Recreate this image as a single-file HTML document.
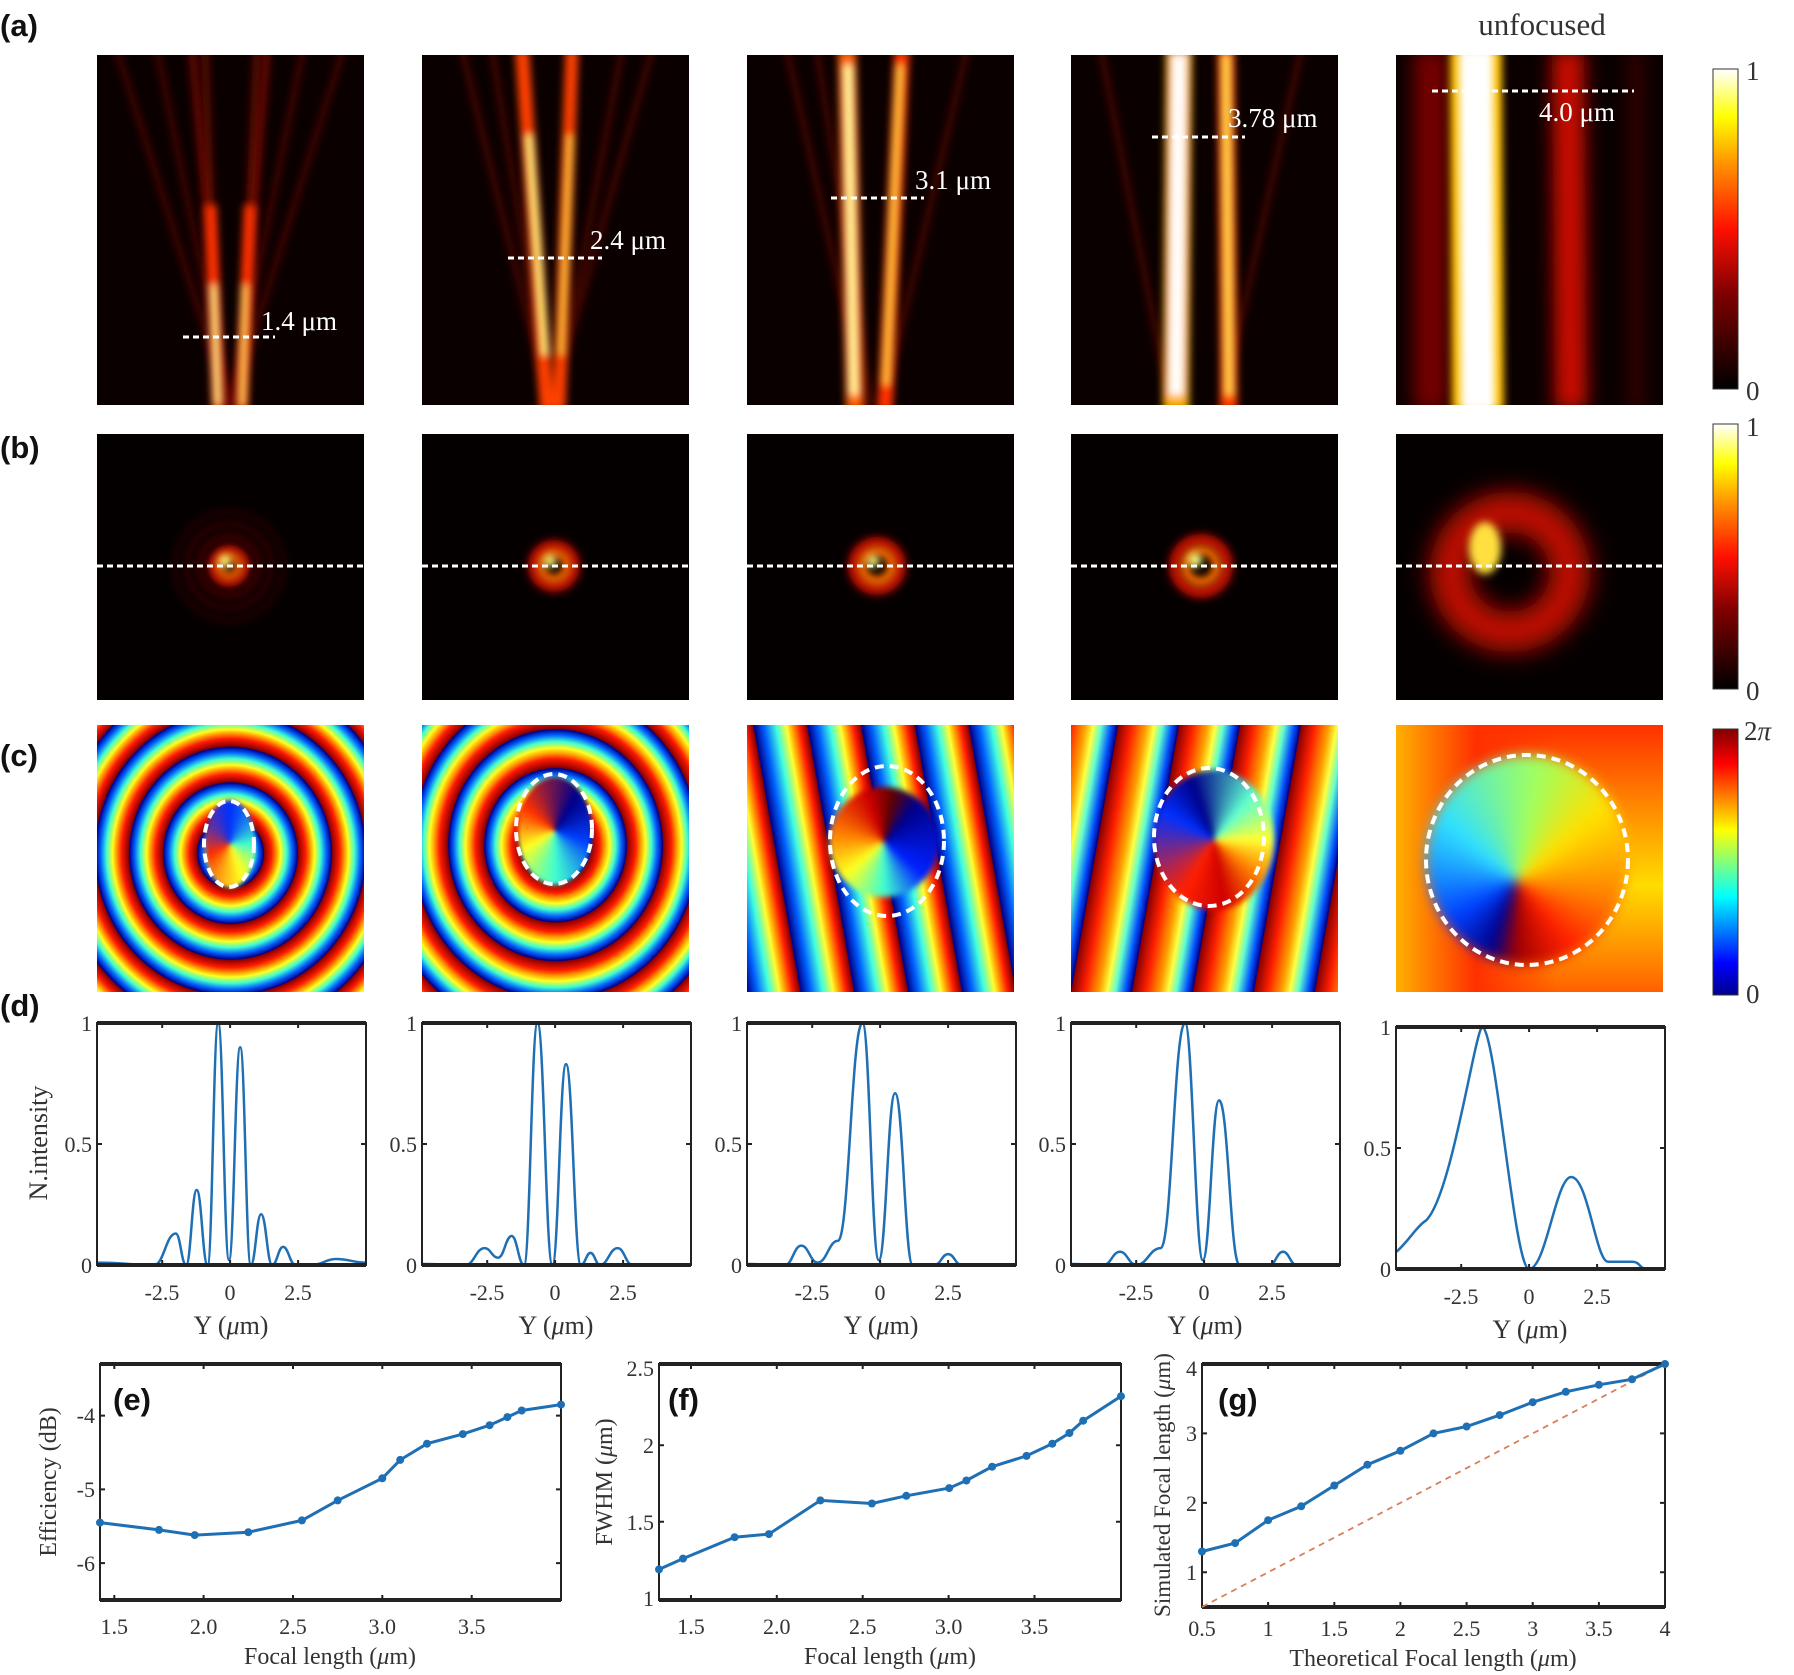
<!DOCTYPE html>
<html><head><meta charset="utf-8">
<style>
html,body{margin:0;padding:0;background:#fff;}
#root{position:relative;width:1794px;height:1675px;overflow:hidden;background:#fff;}
.ph{position:absolute;overflow:hidden;}
svg{position:absolute;left:0;top:0;}
text{font-family:"Liberation Serif",serif;fill:#333;}
.lab{font-family:"Liberation Sans",sans-serif;font-weight:bold;font-size:31px;fill:#111;}
</style></head><body><div id="root">
<div class="ph" style="left:97px;top:725px;width:267px;height:267px;background:repeating-radial-gradient(ellipse 100% 105% at 50% 48%,#8a0000 0px,#ff1a00 7px,#ff9a00 12px,#ffff20 16px,#40ffd0 22px,#0060ff 28px,#00008a 33px,#8a0000 34px);"></div>
<div class="ph" style="left:422px;top:725px;width:267px;height:267px;background:repeating-radial-gradient(ellipse 100% 108% at 50% 45%,#8a0000 0px,#ff1a00 8px,#ff9a00 13px,#ffff20 18px,#40ffd0 24px,#0060ff 30px,#00008a 35px,#8a0000 36px);"></div>
<div class="ph" style="left:747px;top:725px;width:267px;height:267px;background:repeating-linear-gradient(80deg,#00008a 0px,#0060ff 10px,#40ffe0 22px,#ffff30 32px,#ff9a00 38px,#ff1a00 45px,#8a0000 52px,#00008a 53px);"></div>
<div class="ph" style="left:1071px;top:725px;width:267px;height:267px;background:repeating-linear-gradient(100deg,#ff2000 0px,#ffa000 14px,#ffff40 22px,#60ffd0 30px,#0050ff 40px,#00008a 46px,#8a0000 47px,#ff2000 60px);"></div>
<div class="ph" style="left:1396px;top:725px;width:267px;height:267px;background:linear-gradient(90deg,#ffb000,#ff3000 30%,rgba(255,80,0,0) 60%),linear-gradient(180deg,#ff3000,#ffdd00 60%,#ff6000);"></div>
<div class="ph" style="left:1426px;top:755px;width:202px;height:210px;border-radius:50%;background:conic-gradient(from 200deg at 45% 60%,#00008a,#0040ff 40deg,#30e0ff 110deg,#a0ff60 170deg,#ffe000 210deg,#ff8000 260deg,#ff2000 300deg,#a00000 340deg,#00008a 360deg);filter:blur(6px);"></div>
<div class="ph" style="left:829px;top:787px;width:110px;height:110px;border-radius:50%;background:conic-gradient(from 340deg,#d00000,#600000 30deg,#00008a 60deg,#0020ff 150deg,#40ffd0 200deg,#ffff20 250deg,#ff8000 300deg,#d00000 360deg);filter:blur(3px);"></div>
<div class="ph" style="left:1154px;top:770px;width:120px;height:140px;border-radius:50%;background:conic-gradient(from 300deg,#0030ff,#00008a 40deg,#60ffd0 100deg,#ffff30 150deg,#ff8000 190deg,#d00000 230deg,#ff2000 270deg,#0030ff 360deg);filter:blur(3px);"></div>
<div class="ph" style="left:205px;top:800px;width:50px;height:88px;border-radius:50%;background:conic-gradient(#0030ff,#40ffd0 90deg,#ffff20 160deg,#ff3000 240deg,#0030ff 360deg);filter:blur(2px);"></div>
<div class="ph" style="left:518px;top:777px;width:74px;height:108px;border-radius:50%;background:conic-gradient(from 30deg,#00008a,#0040ff 80deg,#40ffd0 150deg,#ffff20 210deg,#ff3000 280deg,#00008a 360deg);filter:blur(2px);"></div>

<svg width="1794" height="1675" viewBox="0 0 1794 1675" xmlns="http://www.w3.org/2000/svg">
<defs>
<filter id="b3" filterUnits="userSpaceOnUse" x="-100" y="-100" width="500" height="600"><feGaussianBlur stdDeviation="4"/></filter>
<filter id="b6" filterUnits="userSpaceOnUse" x="-100" y="-100" width="500" height="600"><feGaussianBlur stdDeviation="9"/></filter>
<filter id="r4" filterUnits="userSpaceOnUse" x="-100" y="-100" width="500" height="500"><feGaussianBlur stdDeviation="4"/></filter>
<filter id="r10" filterUnits="userSpaceOnUse" x="-100" y="-100" width="500" height="500"><feGaussianBlur stdDeviation="12"/></filter>
<linearGradient id="hot" x1="0" y1="1" x2="0" y2="0"><stop offset="0" stop-color="#000"/><stop offset="0.3" stop-color="#800000"/><stop offset="0.5" stop-color="#ff1000"/><stop offset="0.7" stop-color="#ff9000"/><stop offset="0.85" stop-color="#ffff00"/><stop offset="1" stop-color="#fff"/></linearGradient>
<linearGradient id="jet" x1="0" y1="1" x2="0" y2="0"><stop offset="0" stop-color="#00008f"/><stop offset="0.12" stop-color="#0000ff"/><stop offset="0.37" stop-color="#00ffff"/><stop offset="0.62" stop-color="#ffff00"/><stop offset="0.87" stop-color="#ff0000"/><stop offset="1" stop-color="#800000"/></linearGradient>
<clipPath id="ca"><rect x="0" y="0" width="267" height="350"/></clipPath>
<clipPath id="cbb"><rect x="0" y="0" width="267" height="266"/></clipPath>
</defs>

<!-- ROW A -->
<g transform="translate(97,55)" clip-path="url(#ca)">
<rect width="267" height="350" fill="#0a0000"/>
<g stroke="#a00800" stroke-width="6" opacity="0.4" filter="url(#b3)">
<line x1="133" y1="355" x2="20" y2="-5"/><line x1="133" y1="355" x2="60" y2="-5"/><line x1="133" y1="355" x2="246" y2="-5"/><line x1="133" y1="355" x2="206" y2="-5"/></g>
<g stroke="#c01000" stroke-width="8" opacity="0.5" filter="url(#b3)"><line x1="128" y1="355" x2="95" y2="-5"/><line x1="140" y1="355" x2="170" y2="-5"/></g>
<g filter="url(#b3)">
<line x1="121" y1="355" x2="113.6" y2="150" stroke="#ff3000" stroke-width="12"/>
<line x1="113.6" y1="150" x2="108" y2="-5" stroke="#a01000" stroke-width="8" opacity="0.5"/>
<line x1="145" y1="355" x2="153" y2="150" stroke="#ff3000" stroke-width="12"/>
<line x1="153" y1="150" x2="160" y2="-5" stroke="#a01000" stroke-width="8" opacity="0.5"/>
<line x1="121" y1="350" x2="116.5" y2="230" stroke="#ffff90" stroke-width="5"/>
<line x1="145" y1="350" x2="148" y2="230" stroke="#ffe060" stroke-width="5"/>
</g></g>

<g transform="translate(422,55)" clip-path="url(#ca)">
<rect width="267" height="350" fill="#0a0000"/>
<g stroke="#900800" stroke-width="7" opacity="0.4" filter="url(#b3)">
<line x1="128" y1="355" x2="40" y2="-5"/><line x1="128" y1="355" x2="230" y2="-5"/><line x1="128" y1="355" x2="70" y2="-5"/><line x1="132" y1="355" x2="200" y2="-5"/></g>
<g filter="url(#b3)">
<line x1="125" y1="355" x2="100" y2="-5" stroke="#ff4000" stroke-width="14"/>
<line x1="137" y1="355" x2="150" y2="-5" stroke="#ff4000" stroke-width="13"/>
<line x1="123" y1="300" x2="107" y2="80" stroke="#ffff80" stroke-width="6"/>
<line x1="139" y1="300" x2="148" y2="80" stroke="#ffd040" stroke-width="5"/>
</g></g>

<g transform="translate(747,55)" clip-path="url(#ca)">
<rect width="267" height="350" fill="#0a0000"/>
<g stroke="#900800" stroke-width="7" opacity="0.4" filter="url(#b3)">
<line x1="120" y1="355" x2="40" y2="-5"/><line x1="135" y1="355" x2="220" y2="-5"/><line x1="125" y1="355" x2="70" y2="-5"/></g>
<g filter="url(#b3)">
<line x1="108" y1="355" x2="100" y2="-5" stroke="#ff6000" stroke-width="18"/>
<line x1="138" y1="355" x2="155" y2="-5" stroke="#ff3000" stroke-width="15"/>
<line x1="107" y1="340" x2="101" y2="10" stroke="#ffffa0" stroke-width="8"/>
<line x1="139" y1="330" x2="153" y2="10" stroke="#ffd040" stroke-width="6"/>
</g></g>

<g transform="translate(1071,55)" clip-path="url(#ca)">
<rect width="267" height="350" fill="#0a0000"/>
<g stroke="#900800" stroke-width="7" opacity="0.4" filter="url(#b3)">
<line x1="100" y1="355" x2="30" y2="-5"/><line x1="150" y1="355" x2="230" y2="-5"/></g>
<g filter="url(#b3)">
<line x1="105" y1="355" x2="108" y2="-5" stroke="#ffb000" stroke-width="26"/>
<line x1="158" y1="355" x2="155" y2="-5" stroke="#ff4000" stroke-width="17"/>
<line x1="105" y1="340" x2="108" y2="0" stroke="#ffffff" stroke-width="14"/>
<line x1="158" y1="340" x2="155" y2="0" stroke="#ffe050" stroke-width="7"/>
</g></g>

<g transform="translate(1396,55)" clip-path="url(#ca)">
<rect width="267" height="350" fill="#0a0000"/>
<line x1="35" y1="355" x2="35" y2="-5" stroke="#900000" stroke-width="35" opacity="0.8" filter="url(#b6)"/>
<line x1="175" y1="355" x2="172" y2="-5" stroke="#e01000" stroke-width="32" opacity="0.9" filter="url(#b6)"/>
<line x1="240" y1="355" x2="240" y2="-5" stroke="#600000" stroke-width="14" opacity="0.6" filter="url(#b6)"/>
<line x1="82" y1="355" x2="80" y2="-5" stroke="#ffc000" stroke-width="52" filter="url(#b3)"/>
<line x1="82" y1="355" x2="80" y2="-5" stroke="#ffffff" stroke-width="34" filter="url(#b3)"/>
</g>

<!-- ROW B -->
<g transform="translate(97,434)" clip-path="url(#cbb)">
<rect width="267" height="266" fill="#050000"/>
<circle cx="132" cy="132" r="54" fill="none" stroke="#900000" stroke-width="4" opacity="0.3" filter="url(#r4)"/>
<circle cx="132" cy="132" r="42" fill="none" stroke="#900000" stroke-width="4" opacity="0.5" filter="url(#r4)"/>
<circle cx="132" cy="132" r="30" fill="none" stroke="#900000" stroke-width="4" opacity="0.7" filter="url(#r4)"/>
<circle cx="132" cy="132" r="16" fill="none" stroke="#c01000" stroke-width="10" filter="url(#r4)"/>
<circle cx="132" cy="132" r="10" fill="none" stroke="#ff7000" stroke-width="7" filter="url(#r4)"/>
<circle cx="128" cy="127" r="6" fill="#ffff80" filter="url(#r4)"/>
</g>
<g transform="translate(422,434)" clip-path="url(#cbb)">
<rect width="267" height="266" fill="#050000"/>
<circle cx="132" cy="132" r="20" fill="none" stroke="#c01000" stroke-width="12" filter="url(#r4)"/>
<circle cx="132" cy="132" r="13" fill="none" stroke="#ff7000" stroke-width="8" filter="url(#r4)"/>
<circle cx="128" cy="127" r="6" fill="#ffff80" filter="url(#r4)"/>
</g>
<g transform="translate(747,434)" clip-path="url(#cbb)">
<rect width="267" height="266" fill="#050000"/>
<circle cx="130" cy="132" r="23" fill="none" stroke="#c01000" stroke-width="12" filter="url(#r4)"/>
<circle cx="130" cy="132" r="15" fill="none" stroke="#ff7000" stroke-width="9" filter="url(#r4)"/>
<circle cx="126" cy="127" r="6" fill="#ffff80" filter="url(#r4)"/>
</g>
<g transform="translate(1071,434)" clip-path="url(#cbb)">
<rect width="267" height="266" fill="#050000"/>
<circle cx="130" cy="132" r="26" fill="none" stroke="#c01000" stroke-width="12" filter="url(#r4)"/>
<circle cx="130" cy="132" r="16" fill="none" stroke="#ff7000" stroke-width="9" filter="url(#r4)"/>
<circle cx="124" cy="126" r="7" fill="#ffff80" filter="url(#r4)"/>
</g>
<g transform="translate(1396,434)" clip-path="url(#cbb)">
<rect width="267" height="266" fill="#050000"/>
<circle cx="114" cy="138" r="60" fill="none" stroke="#c01000" stroke-width="40" filter="url(#r10)"/>
<ellipse cx="89" cy="114" rx="16" ry="26" fill="#ffe040" filter="url(#r4)"/>
</g>

<!-- colorbars -->
<rect x="1713" y="69" width="25" height="320" fill="url(#hot)" stroke="#333" stroke-width="1"/>
<rect x="1713" y="424" width="25" height="265" fill="url(#hot)" stroke="#333" stroke-width="1"/>
<rect x="1713" y="729" width="25" height="266" fill="url(#jet)" stroke="#333" stroke-width="1"/>
<g font-size="27">
<text x="1746" y="80">1</text><text x="1746" y="400">0</text>
<text x="1746" y="436">1</text><text x="1746" y="700">0</text>
<text x="1744" y="740">2<tspan font-style="italic">π</tspan></text><text x="1746" y="1003">0</text>
</g>
<text class="lab" x="0" y="36">(a)</text>
<text class="lab" x="0" y="458">(b)</text>
<text class="lab" x="0" y="766">(c)</text>
<text class="lab" x="0" y="1016">(d)</text>
<text x="1542" y="35" font-size="31" text-anchor="middle">unfocused</text>

<!-- annotations -->
<g stroke="#fff" stroke-width="3" stroke-dasharray="6 4">
<line x1="183" y1="337" x2="275" y2="337"/><line x1="508" y1="258" x2="602" y2="258"/><line x1="831" y1="198" x2="924" y2="198"/><line x1="1152" y1="137" x2="1245" y2="137"/><line x1="1432" y1="91" x2="1634" y2="91"/>
<line x1="97" y1="566" x2="364" y2="566"/><line x1="422" y1="566" x2="689" y2="566"/><line x1="747" y1="566" x2="1014" y2="566"/><line x1="1071" y1="566" x2="1338" y2="566"/><line x1="1396" y1="566" x2="1663" y2="566"/>
</g>
<g font-size="27">
<text x="261" y="330" style="fill:#fff">1.4 μm</text><text x="590" y="249" style="fill:#fff">2.4 μm</text><text x="915" y="189" style="fill:#fff">3.1 μm</text><text x="1228" y="127" style="fill:#fff">3.78 μm</text><text x="1539" y="121" style="fill:#fff">4.0 μm</text>
</g>
<g fill="none" stroke="#fff" stroke-width="4" stroke-dasharray="9 6">
<ellipse cx="229" cy="844" rx="25" ry="43"/><ellipse cx="554" cy="829" rx="38" ry="55"/><ellipse cx="887" cy="841" rx="57" ry="75"/><ellipse cx="1209" cy="837" rx="55" ry="69"/><ellipse cx="1527" cy="860" rx="101" ry="105"/>
</g>

<!-- ROW D -->
<g transform="translate(97,1023)">
<path d="M0,239.6 C25.7,239.6 31.4,242 57.1,242 C66.9,242 69,210.5 78.8,210.5 C83.4,210.5 84.5,242 89.1,242 C93.9,242 94.9,167 99.7,167 C104.6,167 105.7,242 110.6,242 C115.4,242 116.4,0 121.2,0 C126.1,0 127.1,237 132,237 C137,237 138.2,24.2 143.2,24.2 C148,24.2 149,242 153.8,242 C158.4,242 159.5,191.2 164.1,191.2 C169.1,191.2 170.2,242 175.2,242 C180.1,242 181.2,223.9 186.1,223.9 C191.6,223.9 192.9,242 198.4,242 L214.6,242 C225.6,242 228.1,236 239.1,236 C252.6,236 255.5,239.6 269,239.6" fill="none" stroke="#1f6fb4" stroke-width="2.5"/>
</g>
<g transform="translate(422,1023)">
<path d="M0,241 C19.6,241 23.9,242 43.5,242 C52,242 54,225.1 62.5,225.1 C68.6,225.1 70,234.7 76.1,234.7 C82.2,234.7 83.6,213 89.7,213 C95.2,213 96.5,242 102,242 C108.1,242 109.4,0 115.5,0 C122.2,0 123.7,242 130.4,242 C136.5,242 137.9,41.1 144,41.1 C150.7,41.1 152.2,242 158.9,242 C163.2,242 164.2,229.9 168.5,229.9 C172.8,229.9 173.7,242 178,242 C185.9,242 187.7,225.1 195.6,225.1 C202.4,225.1 203.8,242 210.6,242 L269,242" fill="none" stroke="#1f6fb4" stroke-width="2.5"/>
</g>
<g transform="translate(747,1023)">
<path d="M0,241 C17,241 21,242 38,242 C45.3,242 47,222.6 54.3,222.6 C61.6,222.6 63.3,239.6 70.6,239.6 C79.8,239.6 81.8,217.8 91,217.8 C102,217.8 104.5,0 115.5,0 C122.8,0 124.5,237.2 131.8,237.2 C139.1,237.2 140.8,70.2 148.1,70.2 C156,70.2 157.8,242 165.7,242 L187.5,242 C193.6,242 195,231.1 201.1,231.1 C207.2,231.1 208.5,242 214.6,242 L269,242" fill="none" stroke="#1f6fb4" stroke-width="2.5"/>
</g>
<g transform="translate(1071,1023)">
<path d="M0,241 C14.7,241 17.9,242 32.6,242 C39.9,242 41.6,228.7 48.9,228.7 C56.2,228.7 57.9,242 65.2,242 C76.2,242 78.7,225.1 89.7,225.1 C100.7,225.1 103.1,0 114.1,0 C121.4,0 124.5,237.2 131.8,237.2 C139.1,237.2 140.8,77.4 148.1,77.4 C157.3,77.4 159.3,242 168.5,242 L198.4,242 C204.5,242 205.9,228.7 212,228.7 C218.1,228.7 219.5,242 225.6,242 L269,242" fill="none" stroke="#1f6fb4" stroke-width="2.5"/>
</g>
<g transform="translate(1396,1027)">
<path d="M0,225.1 C12,215 20,200 29.9,193.6 C55,170 78,10 85.9,0 C100,0 118,242 133.1,242 C150,242 160,150 175.2,150 C192,150 200,234.7 212,234.7 L236.4,234.7 C244,234.7 244,242 250,242 L269,242" fill="none" stroke="#1f6fb4" stroke-width="2.5"/>
</g>

<g fill="none" stroke="#222">
<rect x="97" y="1023" width="269" height="242" stroke-width="2"/><rect x="422" y="1023" width="269" height="242" stroke-width="2"/><rect x="747" y="1023" width="269" height="242" stroke-width="2"/><rect x="1071" y="1023" width="269" height="242" stroke-width="2"/><rect x="1396" y="1027" width="269" height="242" stroke-width="2"/>
<g stroke-width="4">
<line x1="97" y1="1023" x2="366" y2="1023"/><line x1="97" y1="1265" x2="366" y2="1265"/>
<line x1="422" y1="1023" x2="691" y2="1023"/><line x1="422" y1="1265" x2="691" y2="1265"/>
<line x1="747" y1="1023" x2="1016" y2="1023"/><line x1="747" y1="1265" x2="1016" y2="1265"/>
<line x1="1071" y1="1023" x2="1340" y2="1023"/><line x1="1071" y1="1265" x2="1340" y2="1265"/>
<line x1="1396" y1="1027" x2="1665" y2="1027"/><line x1="1396" y1="1269" x2="1665" y2="1269"/>
</g>
</g>
<g stroke="#222" stroke-width="2">
<path d="M162.2,1265v-5M230.1,1265v-5M298.1,1265v-5M162.2,1023v5M230.1,1023v5M298.1,1023v5 M487.2,1265v-5M555.1,1265v-5M623.1,1265v-5M487.2,1023v5M555.1,1023v5M623.1,1023v5 M812.2,1265v-5M880.1,1265v-5M948.1,1265v-5M812.2,1023v5M880.1,1023v5M948.1,1023v5 M1136.2,1265v-5M1204.1,1265v-5M1272.1,1265v-5M1136.2,1023v5M1204.1,1023v5M1272.1,1023v5 M1461.2,1269v-5M1529.1,1269v-5M1597.1,1269v-5M1461.2,1027v5M1529.1,1027v5M1597.1,1027v5"/>
<path d="M97,1144h5M366,1144h-5M422,1144h5M691,1144h-5M747,1144h5M1016,1144h-5M1071,1144h5M1340,1144h-5M1396,1148h5M1665,1148h-5"/>
</g>
<g text-anchor="middle" font-size="22">
<text x="162" y="1300">-2.5</text><text x="230" y="1300">0</text><text x="298" y="1300">2.5</text>
<text x="487" y="1300">-2.5</text><text x="555" y="1300">0</text><text x="623" y="1300">2.5</text>
<text x="812" y="1300">-2.5</text><text x="880" y="1300">0</text><text x="948" y="1300">2.5</text>
<text x="1136" y="1300">-2.5</text><text x="1204" y="1300">0</text><text x="1272" y="1300">2.5</text>
<text x="1461" y="1304">-2.5</text><text x="1529" y="1304">0</text><text x="1597" y="1304">2.5</text>
</g>
<g font-size="22" text-anchor="end">
<text x="92" y="1273">0</text><text x="92" y="1152">0.5</text><text x="92" y="1031">1</text>
<text x="417" y="1273">0</text><text x="417" y="1152">0.5</text><text x="417" y="1031">1</text>
<text x="742" y="1273">0</text><text x="742" y="1152">0.5</text><text x="742" y="1031">1</text>
<text x="1066" y="1273">0</text><text x="1066" y="1152">0.5</text><text x="1066" y="1031">1</text>
<text x="1391" y="1277">0</text><text x="1391" y="1156">0.5</text><text x="1391" y="1035">1</text>
</g>
<g font-size="26" text-anchor="middle">
<text x="231" y="1334">Y (<tspan font-style="italic">μ</tspan>m)</text>
<text x="556" y="1334">Y (<tspan font-style="italic">μ</tspan>m)</text>
<text x="881" y="1334">Y (<tspan font-style="italic">μ</tspan>m)</text>
<text x="1205" y="1334">Y (<tspan font-style="italic">μ</tspan>m)</text>
<text x="1530" y="1338">Y (<tspan font-style="italic">μ</tspan>m)</text>
</g>
<text x="47" y="1143" font-size="26" text-anchor="middle" transform="rotate(-90 47 1143)">N.intensity</text>

<!-- E -->
<rect x="100" y="1364" width="461" height="236" fill="none" stroke="#222" stroke-width="2"/>
<line x1="100" y1="1364" x2="561" y2="1364" stroke="#222" stroke-width="4"/><line x1="100" y1="1600" x2="561" y2="1600" stroke="#222" stroke-width="4"/>
<path d="M114.3,1600v-5M203.6,1600v-5M293,1600v-5M382.3,1600v-5M471.7,1600v-5M114.3,1364v5M203.6,1364v5M293,1364v5M382.3,1364v5M471.7,1364v5M100,1415.6h5M100,1489.4h5M100,1563.1h5M561,1415.6h-5M561,1489.4h-5M561,1563.1h-5" stroke="#222" stroke-width="2"/>
<polyline points="100,1522.6 159,1529.9 194.7,1535.1 248.3,1532.2 301.9,1520.4 337.7,1500.4 382.3,1478.3 400.2,1459.9 427,1443.7 462.8,1434.1 489.6,1425.2 507.4,1417.1 521.7,1410.5 561,1404.6" fill="none" stroke="#1f6fb4" stroke-width="3"/>
<g fill="#1f6fb4"><circle cx="100" cy="1522.6" r="4"/><circle cx="159" cy="1529.9" r="4"/><circle cx="194.7" cy="1535.1" r="4"/><circle cx="248.3" cy="1532.2" r="4"/><circle cx="301.9" cy="1520.4" r="4"/><circle cx="337.7" cy="1500.4" r="4"/><circle cx="382.3" cy="1478.3" r="4"/><circle cx="400.2" cy="1459.9" r="4"/><circle cx="427" cy="1443.7" r="4"/><circle cx="462.8" cy="1434.1" r="4"/><circle cx="489.6" cy="1425.2" r="4"/><circle cx="507.4" cy="1417.1" r="4"/><circle cx="521.7" cy="1410.5" r="4"/><circle cx="561" cy="1404.6" r="4"/></g>
<g font-size="22" text-anchor="middle"><text x="114.3" y="1634">1.5</text><text x="203.6" y="1634">2.0</text><text x="293" y="1634">2.5</text><text x="382.3" y="1634">3.0</text><text x="471.7" y="1634">3.5</text></g>
<g font-size="22" text-anchor="end"><text x="95" y="1423">-4</text><text x="95" y="1497">-5</text><text x="95" y="1571">-6</text></g>
<text x="330" y="1664" font-size="24" text-anchor="middle">Focal length (<tspan font-style="italic">μ</tspan>m)</text>
<text x="56" y="1482" font-size="24" text-anchor="middle" transform="rotate(-90 56 1482)">Efficiency (dB)</text>
<text class="lab" x="113" y="1410" font-size="34">(e)</text>

<!-- F -->
<rect x="659" y="1364" width="462" height="236" fill="none" stroke="#222" stroke-width="2"/>
<line x1="659" y1="1364" x2="1121" y2="1364" stroke="#222" stroke-width="4"/><line x1="659" y1="1600" x2="1121" y2="1600" stroke="#222" stroke-width="4"/>
<path d="M691,1600v-5M776.8,1600v-5M862.7,1600v-5M948.6,1600v-5M1034.5,1600v-5M691,1364v5M776.8,1364v5M862.7,1364v5M948.6,1364v5M1034.5,1364v5M659,1521.8h5M659,1445.2h5M1121,1521.8h-5M1121,1445.2h-5" stroke="#222" stroke-width="2"/>
<polyline points="659,1569.4 683,1558.6 734.6,1537.2 768.9,1534.1 820.4,1500.4 871.9,1503.5 906.3,1495.8 949.2,1488.1 966.4,1480.5 992.1,1466.7 1026.5,1455.9 1052.3,1443.7 1069.4,1433 1083.2,1420.7 1121,1396.2" fill="none" stroke="#1f6fb4" stroke-width="3"/>
<g fill="#1f6fb4"><circle cx="659" cy="1569.4" r="4"/><circle cx="683" cy="1558.6" r="4"/><circle cx="734.6" cy="1537.2" r="4"/><circle cx="768.9" cy="1534.1" r="4"/><circle cx="820.4" cy="1500.4" r="4"/><circle cx="871.9" cy="1503.5" r="4"/><circle cx="906.3" cy="1495.8" r="4"/><circle cx="949.2" cy="1488.1" r="4"/><circle cx="966.4" cy="1480.5" r="4"/><circle cx="992.1" cy="1466.7" r="4"/><circle cx="1026.5" cy="1455.9" r="4"/><circle cx="1052.3" cy="1443.7" r="4"/><circle cx="1069.4" cy="1433" r="4"/><circle cx="1083.2" cy="1420.7" r="4"/><circle cx="1121" cy="1396.2" r="4"/></g>
<g font-size="22" text-anchor="middle"><text x="691" y="1634">1.5</text><text x="776.8" y="1634">2.0</text><text x="862.7" y="1634">2.5</text><text x="948.6" y="1634">3.0</text><text x="1034.5" y="1634">3.5</text></g>
<g font-size="22" text-anchor="end"><text x="654" y="1606">1</text><text x="654" y="1530">1.5</text><text x="654" y="1453">2</text><text x="654" y="1376">2.5</text></g>
<text x="890" y="1664" font-size="24" text-anchor="middle">Focal length (<tspan font-style="italic">μ</tspan>m)</text>
<text x="612" y="1482" font-size="24" text-anchor="middle" transform="rotate(-90 612 1482)">FWHM (<tspan font-style="italic">μ</tspan>m)</text>
<text class="lab" x="668" y="1410" font-size="34">(f)</text>

<!-- G -->
<rect x="1202" y="1364" width="463" height="243" fill="none" stroke="#222" stroke-width="2"/>
<line x1="1202" y1="1364" x2="1665" y2="1364" stroke="#222" stroke-width="4"/><line x1="1202" y1="1607" x2="1665" y2="1607" stroke="#222" stroke-width="4"/>
<path d="M1268.1,1607v-5M1334.3,1607v-5M1400.4,1607v-5M1466.6,1607v-5M1532.7,1607v-5M1598.9,1607v-5M1268.1,1364v5M1334.3,1364v5M1400.4,1364v5M1466.6,1364v5M1532.7,1364v5M1598.9,1364v5M1202,1572.3h5M1202,1502.9h5M1202,1433.4h5M1665,1572.3h-5M1665,1502.9h-5M1665,1433.4h-5" stroke="#222" stroke-width="2"/>
<line x1="1202" y1="1607" x2="1665" y2="1364" stroke="#d9805a" stroke-width="1.8" stroke-dasharray="6 5"/>
<polyline points="1202,1551.5 1235.1,1543.1 1268.1,1520.2 1301.2,1506.3 1334.3,1485.5 1367.4,1464.7 1400.4,1450.8 1433.5,1433.4 1466.6,1426.5 1499.7,1415.1 1532.7,1402.2 1565.8,1391.8 1598.9,1384.8 1632,1379.3 1665,1364" fill="none" stroke="#1f6fb4" stroke-width="3"/>
<g fill="#1f6fb4"><circle cx="1202" cy="1551.5" r="4"/><circle cx="1235.1" cy="1543.1" r="4"/><circle cx="1268.1" cy="1520.2" r="4"/><circle cx="1301.2" cy="1506.3" r="4"/><circle cx="1334.3" cy="1485.5" r="4"/><circle cx="1367.4" cy="1464.7" r="4"/><circle cx="1400.4" cy="1450.8" r="4"/><circle cx="1433.5" cy="1433.4" r="4"/><circle cx="1466.6" cy="1426.5" r="4"/><circle cx="1499.7" cy="1415.1" r="4"/><circle cx="1532.7" cy="1402.2" r="4"/><circle cx="1565.8" cy="1391.8" r="4"/><circle cx="1598.9" cy="1384.8" r="4"/><circle cx="1632" cy="1379.3" r="4"/><circle cx="1665" cy="1364" r="4"/></g>
<g font-size="22" text-anchor="middle"><text x="1202" y="1636">0.5</text><text x="1268.1" y="1636">1</text><text x="1334.3" y="1636">1.5</text><text x="1400.4" y="1636">2</text><text x="1466.6" y="1636">2.5</text><text x="1532.7" y="1636">3</text><text x="1598.9" y="1636">3.5</text><text x="1665" y="1636">4</text></g>
<g font-size="22" text-anchor="end"><text x="1197" y="1580">1</text><text x="1197" y="1511">2</text><text x="1197" y="1441">3</text><text x="1197" y="1376">4</text></g>
<text x="1433" y="1666" font-size="24" text-anchor="middle">Theoretical Focal length (<tspan font-style="italic">μ</tspan>m)</text>
<text x="1170" y="1485" font-size="23" text-anchor="middle" transform="rotate(-90 1170 1485)">Simulated Focal length (<tspan font-style="italic">μ</tspan>m)</text>
<text class="lab" x="1218" y="1410" font-size="34">(g)</text>
</svg>
</div>
</body></html>
